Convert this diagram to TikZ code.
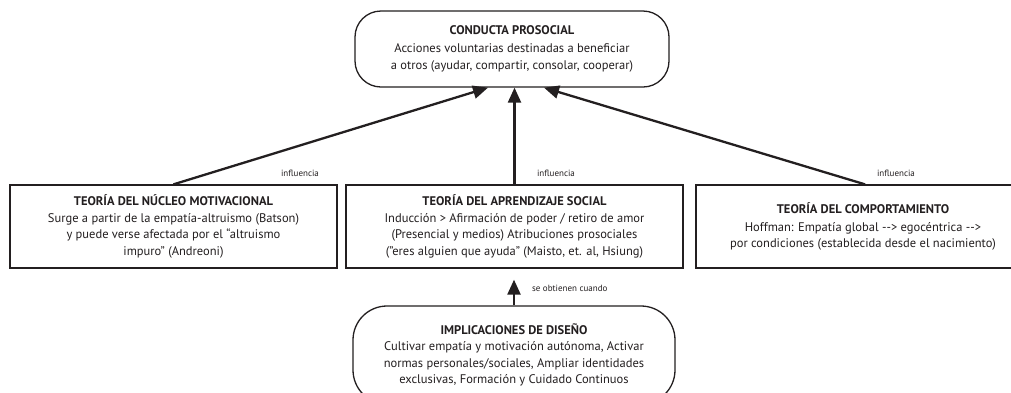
\documentclass[tikz,border=0pt]{standalone}
\usepackage{fontspec}
\setmainfont{PT Sans}
\usetikzlibrary{arrows.meta,calc}
\definecolor{ink}{HTML}{231F20}
\begin{document}
\begin{tikzpicture}[x=1pt,y=-1pt,
  every node/.style={text=ink},
  box/.style={draw=ink,line width=1.3pt,align=center,inner sep=0pt,
    font=\fontsize{12.5}{16.5}\selectfont},
  roundbox/.style={box,rounded corners=26pt},
  arr/.style={draw=ink,line width=2.3pt,-{Triangle[length=15pt,width=13pt]}},
  lbl/.style={font=\fontsize{9}{11}\selectfont,inner sep=0pt}]
\useasboundingbox (0,0) rectangle (1011,392);
\clip (0,0) rectangle (1011,392);
\fill[white] (0,0) rectangle (1011,392);

\node[roundbox,minimum width=314pt,minimum height=76pt,font=\fontsize{12.5}{17.5}\selectfont] (top) at (512,49)
 {\textbf{CONDUCTA PROSOCIAL}\\Acciones voluntarias destinadas a beneficiar\\a otros (ayudar, compartir, consolar, cooperar)};

\node[box,minimum width=327pt,minimum height=83pt] (left) at (173.5,226.5)
 {\textbf{TEORÍA DEL NÚCLEO MOTIVACIONAL}\\Surge a partir de la empatía-altruismo (Batson)\\y puede verse afectada por el “altruismo\\impuro” (Andreoni)};

\node[box,minimum width=337pt,minimum height=83pt] (mid) at (514.5,226.5)
 {\textbf{TEORÍA DEL APRENDIZAJE SOCIAL}\\Inducción > Afirmación de poder / retiro de amor\\(Presencial y medios) Atribuciones prosociales\\(”eres alguien que ayuda” (Maisto, et. al, Hsiung)};

\node[box,minimum width=334pt,minimum height=83pt] (right) at (863,226.5)
 {\textbf{TEORÍA DEL COMPORTAMIENTO}\\[1.5pt]Hoffman: Empatía global -{}-{}> egocéntrica -{}-{}>\\por condiciones (establecida desde el nacimiento)};

\node[roundbox,rounded corners=34pt,minimum width=322pt,minimum height=98pt] (bot) at (514,355)
 {\textbf{IMPLICACIONES DE DISEÑO}\\Cultivar empatía y motivación autónoma, Activar\\normas personales/sociales, Ampliar identidades\\exclusivas, Formación y Cuidado Continuos};

\coordinate (tipb) at ($(mid.south)+(0,11)$);

\draw[arr] (left.north) -- ([xshift=-24pt]top.south);
\draw[arr] (mid.north) -- (mid.north |- top.south);
\draw[arr] ([xshift=2pt]right.north) -- ([xshift=32pt]top.south);
\draw[arr] (bot.north) -- (bot.north |- tipb);

\node[lbl] (l1) at (300,173) {influencia};
\node[lbl] (l2) at (556,173) {influencia};
\node[lbl] (l3) at (896,173) {influencia};
\node[lbl,anchor=west] (l4) at (532,288) {se obtienen cuando};
\end{tikzpicture}
\end{document}
